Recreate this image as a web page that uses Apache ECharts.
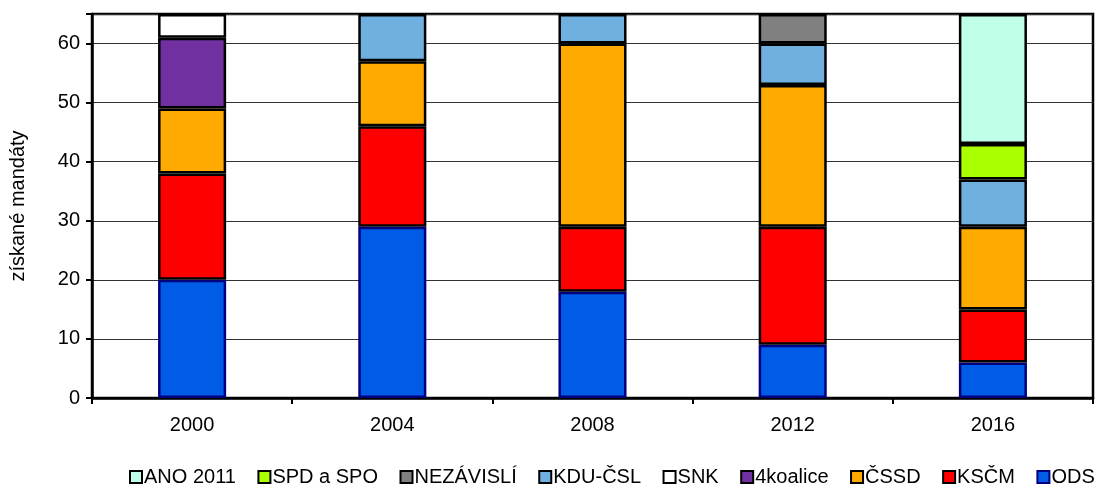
<!DOCTYPE html>
<html>
<head>
<meta charset="utf-8">
<script src="https://cdn.jsdelivr.net/npm/echarts@6/dist/echarts.min.js"></script>
<style>
  html, body { margin: 0; padding: 0; background: #fff; }
  #chart { width: 1111px; height: 488px; }
</style>
</head>
<body>
<div id="chart"></div>
<script>
const years = ['2000', '2004', '2008', '2012', '2016'];

// od spodu sloupce nahoru
const ods = [20, 29, 18, 9, 6];
const kscm = [18, 17, 11, 20, 9];
const cssd = [11, 11, 31, 24, 14];
const koalice4 = [12, 0, 0, 0, 0];
const snk = [4, 0, 0, 0, 0];
const kducsl = [0, 8, 5, 7, 8];
const nezavisli = [0, 0, 0, 5, 0];
const spd = [0, 0, 0, 0, 6];
const ano = [0, 0, 0, 0, 22];

const yTicks = [0, 10, 20, 30, 40, 50, 60];

const font = 'Liberation Sans, Arial, sans-serif';

const parties = [
  { name: 'ODS', data: ods, color: '#005CE6', border: '#00007F' },
  { name: 'KSČM', data: kscm, color: '#FF0000', border: '#000' },
  { name: 'ČSSD', data: cssd, color: '#FFAA00', border: '#000' },
  { name: '4koalice', data: koalice4, color: '#7030A0', border: '#000' },
  { name: 'SNK', data: snk, color: '#FFFFFF', border: '#000' },
  { name: 'KDU-ČSL', data: kducsl, color: '#70B0E0', border: '#000' },
  { name: 'NEZÁVISLÍ', data: nezavisli, color: '#808080', border: '#000' },
  { name: 'SPD a SPO', data: spd, color: '#AAFF00', border: '#000' },
  { name: 'ANO 2011', data: ano, color: '#C0FFE8', border: '#000' }
];

const chart = echarts.init(document.getElementById('chart'));

chart.setOption({
  animation: false,
  backgroundColor: '#fff',
  grid: {
    left: 91,
    right: 18,
    top: 14,
    bottom: 90,
    show: true,
    borderColor: '#000',
    borderWidth: 2.5,
    backgroundColor: 'transparent'
  },
  legend: {
    data: parties.map(p => p.name).reverse(),
    left: 129,
    right: 0,
    top: 462,
    padding: [5, 0],
    itemWidth: 12,
    itemHeight: 12,
    itemGap: 21.5,
    icon: 'rect',
    textStyle: { fontFamily: font, fontSize: 20, color: '#000', padding: [0, 0, 0, -3] }
  },
  xAxis: {
    type: 'category',
    data: years,
    boundaryGap: true,
    axisLine: { lineStyle: { color: '#000', width: 2.5 } },
    axisTick: { show: true, length: 6, lineStyle: { color: '#000', width: 2 } },
    axisLabel: { fontFamily: font, fontSize: 20, color: '#000', margin: 17 }
  },
  yAxis: {
    type: 'value',
    min: 0,
    max: 65,
    interval: 10,
    name: 'získané mandáty',
    nameLocation: 'middle',
    nameGap: 64,
    nameTextStyle: { fontFamily: font, fontSize: 20, color: '#000' },
    axisLine: { show: true, lineStyle: { color: '#000', width: 2.5 } },
    axisTick: { show: true, length: 6, lineStyle: { color: '#000', width: 2 } },
    axisLabel: {
      fontFamily: font,
      fontSize: 20,
      color: '#000',
      margin: 12,
      formatter: v => (yTicks.includes(v) ? String(v) : '')
    },
    splitLine: { lineStyle: { color: '#333', width: 1 } }
  },
  series: parties.map(p => ({
    name: p.name,
    type: 'bar',
    stack: 'total',
    barWidth: '34%',
    data: p.data.map(v => (v === 0 ? null : v)),
    itemStyle: { color: p.color, borderColor: p.border, borderWidth: 2.5 }
  }))
});
</script>
</body>
</html>
